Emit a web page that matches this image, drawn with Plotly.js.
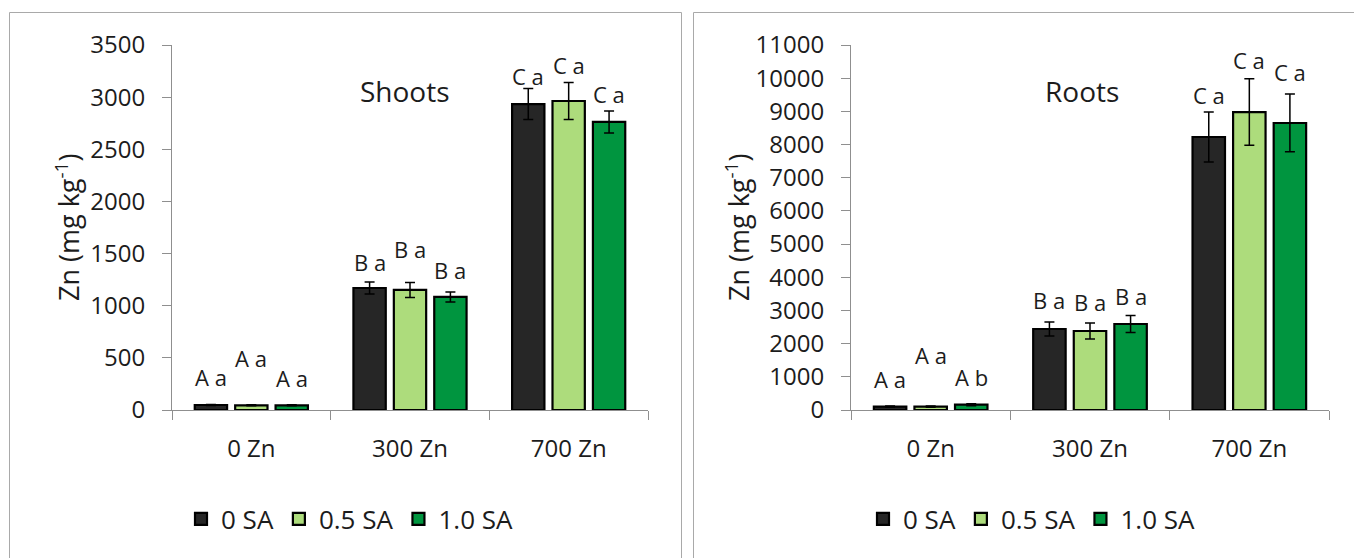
<!DOCTYPE html>
<html>
<head>
<meta charset="utf-8">
<script src="https://cdn.plot.ly/plotly-3.0.1.min.js"></script>
<style>html,body{margin:0;padding:0;background:#fff;}#chart{width:1354px;height:558px;}</style>
</head>
<body>
<div id="chart"></div>
<script>
// ---------- data ----------
var categories = ["0 Zn", "300 Zn", "700 Zn"];
var seriesNames = ["0 SA", "0.5 SA", "1.0 SA"];

// Shoots (mg kg-1)
var shoots0SA   = [48, 1170, 2934];
var shoots05SA  = [45, 1151, 2963];
var shoots10SA  = [45, 1084, 2762];
var shootsErr0SA  = [5, 58, 149];
var shootsErr05SA = [5, 72, 177];
var shootsErr10SA = [5, 48, 105];
var shootsLetters0SA  = ["A a", "B a", "C a"];
var shootsLetters05SA = ["A a", "B a", "C a"];
var shootsLetters10SA = ["A a", "B a", "C a"];

// Roots (mg kg-1)
var roots0SA   = [100, 2441, 8227];
var roots05SA  = [100, 2381, 8980];
var roots10SA  = [160, 2592, 8650];
var rootsErr0SA  = [20, 211, 753];
var rootsErr05SA = [20, 241, 1000];
var rootsErr10SA = [30, 256, 870];
var rootsLetters0SA  = ["A a", "B a", "C a"];
var rootsLetters05SA = ["A a", "B a", "C a"];
var rootsLetters10SA = ["A b", "B a", "C a"];

var shootsTicks = [0, 500, 1000, 1500, 2000, 2500, 3000, 3500];
var rootsTicks  = [0, 1000, 2000, 3000, 4000, 5000, 6000, 7000, 8000, 9000, 10000, 11000];

// ---------- styling ----------
var colors = ["#262626", "#ADDC7C", "#00953F"];
var FONT = "Open Sans, Noto Sans, sans-serif";
var TXT = "#1c1c1c";
var AXC = "#8f8f8f";
var W = 1354, H = 558;
var BARGAP = 0.236, BARGROUPGAP = 0.2;
var SLOT = (1 - BARGAP) / 3;
// vertical pixel lift of significance letters above the error-bar tops
var shootsLift = [[27, 20, 12], [47, 33, 18], [27, 22, 17]];
var rootsLift  = [[27, 22, 17], [51, 21, 19], [27, 20, 22]];

var shootsVals = [shoots0SA, shoots05SA, shoots10SA];
var shootsErrs = [shootsErr0SA, shootsErr05SA, shootsErr10SA];
var shootsLets = [shootsLetters0SA, shootsLetters05SA, shootsLetters10SA];
var rootsVals = [roots0SA, roots05SA, roots10SA];
var rootsErrs = [rootsErr0SA, rootsErr05SA, rootsErr10SA];
var rootsLets = [rootsLetters0SA, rootsLetters05SA, rootsLetters10SA];

var traces = [];
var annotations = [];

function addPanel(vals, errs, lets, lifts, xa, ya, legendId) {
  for (var s = 0; s < 3; s++) {
    traces.push({
      type: "bar",
      name: seriesNames[s],
      x: categories,
      y: vals[s],
      xaxis: xa, yaxis: ya,
      legend: legendId,
      marker: {color: colors[s], line: {color: "#000000", width: 2.2}},
      error_y: {type: "data", array: errs[s], visible: true, color: "#000000", thickness: 1.5, width: 5},
      hoverinfo: "x+y+name"
    });
    for (var c = 0; c < categories.length; c++) {
      annotations.push({
        xref: xa, yref: ya,
        x: c + (s - 1) * SLOT,
        y: vals[s][c] + errs[s][c],
        yanchor: "middle", xanchor: "center",
        yshift: lifts[s][c],
        text: lets[s][c],
        showarrow: false,
        font: {family: FONT, size: 22, color: TXT}
      });
    }
  }
}
addPanel(shootsVals, shootsErrs, shootsLets, shootsLift, "x", "y", "legend");
addPanel(rootsVals, rootsErrs, rootsLets, rootsLift, "x2", "y2", "legend2");

// titles
annotations.push({xref: "paper", yref: "paper", x: 405 / W, y: 1 - 91 / H, text: "Shoots", showarrow: false,
  xanchor: "center", yanchor: "middle", font: {family: FONT, size: 28, color: TXT}});
annotations.push({xref: "paper", yref: "paper", x: 1082 / W, y: 1 - 91 / H, text: "Roots", showarrow: false,
  xanchor: "center", yanchor: "middle", font: {family: FONT, size: 28, color: TXT}});
annotations.push({xref: "paper", yref: "paper", x: 67 / W, y: 1 - 228 / H, text: "Zn (mg kg<sup>-1</sup>)", showarrow: false,
  textangle: -90, xanchor: "center", yanchor: "middle", font: {family: FONT, size: 27, color: TXT}});
annotations.push({xref: "paper", yref: "paper", x: 737 / W, y: 1 - 228 / H, text: "Zn (mg kg<sup>-1</sup>)", showarrow: false,
  textangle: -90, xanchor: "center", yanchor: "middle", font: {family: FONT, size: 27, color: TXT}});

var yDom = [1 - 410 / H, 1 - 45 / H];
function xAxis(dom, anchor) {
  return {domain: dom, anchor: anchor, type: "category", showline: true, linecolor: AXC, linewidth: 1,
    ticks: "outside", tickson: "boundaries", ticklen: 9, tickcolor: AXC, tickwidth: 1,
    showgrid: false, zeroline: false, fixedrange: true, ticklabelstandoff: 17,
    tickfont: {family: FONT, size: 24, color: TXT}};
}
function yAxis(range, ticks, anchor) {
  return {domain: yDom, anchor: anchor, range: range, tickmode: "array", tickvals: ticks, ticktext: ticks.map(String),
    showline: true, linecolor: AXC, linewidth: 1, ticks: "outside", ticklen: 9, tickcolor: AXC, tickwidth: 1,
    showgrid: false, zeroline: false, fixedrange: true, ticklabelstandoff: 12,
    tickfont: {family: FONT, size: 24, color: TXT}};
}

var legendBase = {orientation: "h", xanchor: "center", yanchor: "middle", y: 1 - 519 / H,
  font: {family: FONT, size: 26, color: TXT}, bgcolor: "rgba(0,0,0,0)", traceorder: "normal",
  itemwidth: 30, itemclick: false, itemdoubleclick: false};

var layout = {
  width: W, height: H,
  margin: {l: 0, r: 0, t: 0, b: 0},
  paper_bgcolor: "#ffffff", plot_bgcolor: "#ffffff",
  barmode: "group", bargap: BARGAP, bargroupgap: BARGROUPGAP,
  showlegend: true,
  xaxis: xAxis([172 / W, 648 / W], "y"),
  yaxis: yAxis([0, 3500], shootsTicks, "x"),
  xaxis2: xAxis([851 / W, 1329 / W], "y2"),
  yaxis2: yAxis([0, 11000], rootsTicks, "x2"),
  legend: Object.assign({}, legendBase, {x: 350 / W}),
  legend2: Object.assign({}, legendBase, {x: 1032 / W}),
  annotations: annotations,
  shapes: [
    {type: "rect", xref: "paper", yref: "paper", x0: 9.5 / W, x1: 681.5 / W, y0: -0.1, y1: 1 - 12.5 / H,
      line: {color: "#a9a9a9", width: 1}, fillcolor: "rgba(0,0,0,0)", layer: "below"},
    {type: "rect", xref: "paper", yref: "paper", x0: 693.5 / W, x1: 1.1, y0: -0.1, y1: 1 - 12.5 / H,
      line: {color: "#a9a9a9", width: 1}, fillcolor: "rgba(0,0,0,0)", layer: "below"}
  ],
  font: {family: FONT, color: TXT}
};

Plotly.newPlot("chart", traces, layout, {displayModeBar: false, staticPlot: true});
</script>
</body>
</html>
